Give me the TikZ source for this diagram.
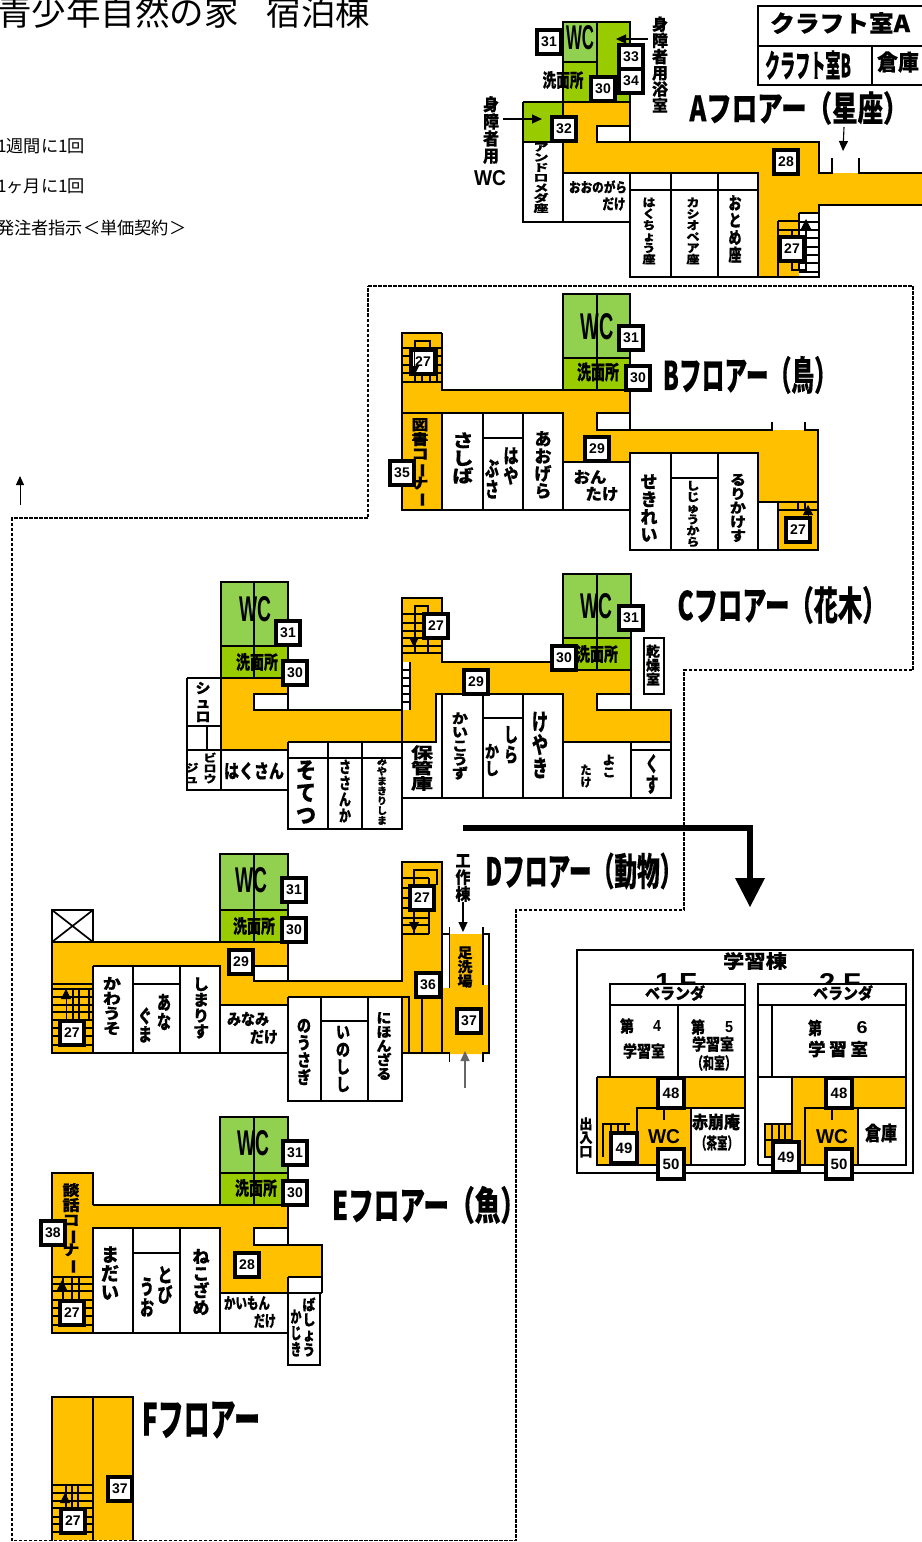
\documentclass[tikz,border=0pt]{standalone}
\usepackage{fontspec}
\usepackage{graphicx}
\setmainfont{Noto Sans CJK JP}[BoldFeatures={FakeBold=0.4}]
\newfontfamily\lib{Liberation Sans}
\usetikzlibrary{arrows.meta}
\definecolor{corr}{HTML}{FFC000}
\definecolor{lgr}{HTML}{92D050}
\definecolor{dgr}{HTML}{99CC00}
\newcount\lc
\newcommand\lbl[5]{\global\advance\lc by 1 \node[txt] (L\the\lc) at (#1,#2) {\resizebox{#3pt}{#4pt}{#5}};}
\newcommand\vstk[1]{\vbox{\let\\\cr \baselineskip=1.0em \lineskiplimit=-100pt \lineskip=0pt \halign{\hfil##\hfil\cr #1\cr}}}
\newcommand\vlbl[5]{\lbl{#1}{#2}{#3}{#4}{\vstk{#5}}}
\newcommand\vb{\rotatebox[origin=c]{-90}{ー}}
\newcommand\wc{{\lib WC}}
\tikzset{
  txt/.style={inner sep=0pt,outer sep=0pt,font=\bfseries},
  wall/.style={draw=black,line width=1.7pt,line join=miter},
  thin stair/.style={draw=black,line width=1.3pt},
  room/.style={draw=black,line width=1.7pt,fill=white},
  corrfill/.style={fill=corr},
  badge/.style={draw=black,fill=white,line width=3.8pt,minimum width=24.4pt,minimum height=23.4pt,inner sep=0pt,font=\lib\bfseries\fontsize{14}{14}\selectfont},
  tall/.style={badge,minimum width=25.4pt,minimum height=30.4pt,font=\lib\bfseries\fontsize{15}{15}\selectfont},
  note/.style={inner sep=0pt,anchor=west,font=\fontsize{17.2}{18}\selectfont},
  darrow/.style={draw=black,line width=1.1pt,-{Triangle[length=10pt,width=9pt]}},
  boundary/.style={draw=black,line width=1.2pt,dash pattern=on 3.5pt off 1.5pt},
}
\begin{document}
\begin{tikzpicture}[x=1pt,y=-1pt]
\useasboundingbox (0,0) rectangle (921,1542);
\fill[white] (0,0) rectangle (921,1542);
% boundary
\draw[boundary] (368,286) -- (913,286) -- (913,670) -- (684,670) -- (684,910) -- (516,910) -- (516,1540.5) -- (12,1540.5) -- (12,518) -- (368,518) -- cycle;
\draw[draw=black,line width=1pt,-{Triangle[length=9pt,width=8pt]}] (20,505) -- (20,476);
% titles
\node[inner sep=0pt,anchor=base west,font=\fontsize{34.5}{35}\selectfont] (title) at (-3,25) {青少年自然の家\hspace{28pt}宿泊棟};
\node[note] (n1) at (-3,146) {1週間に1回};
\node[note] (n2) at (-3,186) {1ヶ月に1回};
\node[note] (n3) at (-3,228) {発注者指示＜単価契約＞};
% craft
\draw[wall] (925,6) -- (758,6) -- (758,85) -- (925,85);
\draw[wall] (758,46) -- (925,46);
\draw[wall] (872,46) -- (872,85);
\lbl{840}{23}{140}{20}{クラフト室A}
\lbl{808}{65}{86}{27}{クラフト室B}
\lbl{898}{62}{42}{19}{倉庫}
% ===== A floor
\fill[dgr] (563,22) rectangle (630,102);
\fill[lgr] (563,22) rectangle (597,62);
\fill[dgr] (523,102) rectangle (563,142);
\fill[corr] (563,102) -- (630,102) -- (630,126) -- (597,126) -- (597,142) -- (819,142) -- (819,173) -- (925,173) -- (925,205) -- (819,205) -- (819,213) -- (799,213) -- (799,277) -- (758,277) -- (758,173) -- (563,173) -- cycle;
\draw[wall] (563,102) -- (563,22) -- (630,22) -- (630,142);
\draw[wall] (563,62) -- (597,62);
\draw[wall] (597,22) -- (597,80);
\draw[wall] (523,102) -- (630,102);
\draw[wall] (523,102) -- (523,222) -- (630,222);
\draw[wall] (563,102) -- (563,222);
\draw[wall] (523,142) -- (563,142);
\draw[wall] (630,126) -- (597,126) -- (597,142) -- (819,142) -- (819,173) -- (832,173) -- (832,158);
\draw[wall] (859,158) -- (859,173) -- (925,173);
\draw[wall] (925,205) -- (819,205) -- (819,277) -- (630,277) -- (630,173);
\draw[wall] (563,173) -- (758,173) -- (758,277);
\draw[wall] (630,190) -- (758,190);
\draw[wall] (671,173) -- (671,277);
\draw[wall] (718,173) -- (718,277);
\draw[thin stair] (799,213) -- (799,270) (778,221) -- (778,277) (778,221) -- (799,221) (778,230) -- (806,230) -- (806,270) -- (792,270) -- (792,230);
\foreach \yy in {213,222,230,238,247,255,263,272} \draw[thin stair] (799,\yy) -- (819,\yy);
\draw[draw=black,line width=1pt,-{Triangle[length=10pt,width=10pt]}] (806,245) -- (806,219);
\lbl{580}{38}{28}{24}{\wc}
\lbl{563}{80}{41}{16}{洗面所}
\vlbl{660}{64.5}{16}{95}{身\\障\\者\\用\\浴\\室}
\vlbl{491}{130}{16}{66}{身\\障\\者\\用}
\lbl{490}{178}{32}{15}{\wc}
\draw[darrow] (648,39) -- (616,39);
\draw[darrow] (503,119) -- (542,119);
\lbl{799}{108}{219}{30}{Aフロアー（星座）}
\draw[darrow] (844,127) -- (843,151);
\vlbl{541}{178}{15}{69}{ア\\ン\\ド\\ロ\\メ\\ダ\\座}
\lbl{598}{187}{58}{12}{おおのがら}
\lbl{614}{204}{23}{12}{だけ}
\vlbl{649}{231}{13}{66}{は\\く\\ち\\ょ\\う\\座}
\vlbl{693}{231}{13}{66}{カ\\シ\\オ\\ペ\\ア\\座}
\vlbl{735}{229}{13}{66}{お\\と\\め\\座}
\node[badge] (a31) at (549,42) {31};
\node[badge] (a33) at (631,57) {33};
\node[badge] (a34) at (631,81) {34};
\node[badge] (a30) at (603,89) {30};
\node[badge] (a32) at (564,129) {32};
\node[badge] (a28) at (786,162) {28};
\node[badge] (a27) at (792,249) {27};
% ===== B floor
\fill[lgr] (563,294) rectangle (630,358);
\fill[dgr] (563,358) rectangle (630,390);
\fill[corr] (402,333) -- (442,333) -- (442,390) -- (630,390) -- (630,413) -- (597,413) -- (597,430) -- (818,430) -- (818,550) -- (778,550) -- (778,502) -- (758,502) -- (758,453) -- (630,453) -- (630,462) -- (563,462) -- (563,413) -- (442,413) -- (442,510) -- (402,510) -- cycle;
\draw[wall] (563,390) -- (563,294) -- (630,294) -- (630,430);
\draw[wall] (563,358) -- (630,358);
\draw[wall] (597,294) -- (597,390);
\draw[wall] (442,333) -- (402,333) -- (402,510) -- (630,510);
\draw[wall] (442,333) -- (442,390) -- (630,390);
\draw[wall] (402,413) -- (563,413) -- (563,510);
\draw[wall] (442,413) -- (442,510);
\draw[wall] (483,413) -- (483,510);
\draw[wall] (523,413) -- (523,510);
\draw[wall] (483,438) -- (523,438);
\draw[wall] (563,462) -- (630,462);
\draw[wall] (630,413) -- (597,413) -- (597,430) -- (772,430) -- (772,422);
\draw[wall] (805,422) -- (805,430) -- (818,430) -- (818,550) -- (630,550) -- (630,453) -- (758,453) -- (758,550);
\draw[wall] (671,453) -- (671,550);
\draw[wall] (718,453) -- (718,550);
\draw[wall] (671,478) -- (718,478);
\draw[wall] (758,502) -- (818,502);
\draw[wall] (778,502) -- (778,550);
\foreach \yy in {348,356,365,373,382} \draw[thin stair] (402,\yy) -- (442,\yy);
\foreach \xx in {415,422,430,437} \draw[thin stair] (\xx,348) -- (\xx,382);
\draw[thin stair] (415,348) -- (415,341) -- (430,341) -- (430,348);
\draw[thin stair] (778,510) -- (818,510) (798,502) -- (798,510) (805,502) -- (805,510);
\lbl{597}{327}{33}{26}{\wc}
\lbl{598}{372}{42}{17}{洗面所}
\lbl{750}{375}{174}{34}{Bフロアー（鳥）}
\vlbl{420}{462.5}{17}{85}{図\\書\\コ\\\vb\\ナ\\\vb}
\vlbl{463}{458}{21}{50}{さ\\し\\ば}
\vlbl{511}{466}{15}{36}{は\\や}
\vlbl{492}{479}{14}{38}{ぶ\\さ}
\vlbl{543}{465}{17}{66}{あ\\お\\げ\\ら}
\lbl{590}{477}{33}{13}{おん}
\lbl{602}{494}{33}{13}{たけ}
\vlbl{649}{508}{17}{67}{せ\\き\\れ\\い}
\vlbl{693}{514}{13}{65}{し\\じ\\ゅ\\う\\か\\ら}
\vlbl{738}{508}{16}{67}{る\\り\\か\\け\\す}
\node[badge] (b31) at (631,338) {31};
\node[badge] (b30) at (638,378) {30};
\node[badge] (b27a) at (423,362) {27};
\node[badge] (b35) at (402,473) {35};
\node[badge] (b29) at (597,449) {29};
\node[badge] (b27b) at (798,530) {27};
\draw[draw=black,line width=1pt,-{Triangle[length=10pt,width=10pt]}] (414,348) -- (414,376);
\draw[draw=black,line width=1pt,-{Triangle[length=10pt,width=10pt]}] (808,533) -- (808,505);
% ===== C floor
\fill[lgr] (221,582) rectangle (288,646);
\fill[dgr] (221,646) rectangle (288,678);
\fill[lgr] (563,574) rectangle (631,638);
\fill[dgr] (563,638) rectangle (631,670);
\fill[corr] (221,678) -- (288,678) -- (288,694) -- (254,694) -- (254,710) -- (402,710) -- (402,598) -- (442,598) -- (442,662) -- (563,662) -- (563,670) -- (631,670) -- (631,694) -- (597,694) -- (597,710) -- (671,710) -- (671,742) -- (563,742) -- (563,694) -- (436,694) -- (436,742) -- (288,742) -- (288,750) -- (221,750) -- cycle;
\fill[white] (402,662) rectangle (410,710);
\draw[wall] (221,678) -- (221,582) -- (288,582) -- (288,710);
\draw[wall] (221,646) -- (288,646);
\draw[wall] (254,582) -- (254,678);
\draw[wall] (187,678) -- (288,678);
\draw[wall] (187,678) -- (187,790) -- (288,790);
\draw[wall] (221,678) -- (221,790);
\draw[wall] (187,726) -- (221,726);
\draw[wall] (207,726) -- (207,750);
\draw[wall] (187,750) -- (288,750);
\draw[wall] (288,694) -- (254,694) -- (254,710) -- (402,710) -- (402,598) -- (442,598) -- (442,662) -- (563,662);
\draw[wall] (563,670) -- (563,574) -- (631,574) -- (631,710);
\draw[wall] (563,638) -- (631,638);
\draw[wall] (597,574) -- (597,670);
\draw[wall] (563,670) -- (631,670);
\draw[wall] (631,694) -- (597,694) -- (597,710) -- (671,710) -- (671,798) -- (402,798);
\draw[wall] (288,742) -- (436,742) -- (436,694) -- (563,694) -- (563,798);
\draw[wall] (288,742) -- (288,829) -- (402,829) -- (402,710);
\draw[wall] (288,758) -- (402,758);
\draw[wall] (328,742) -- (328,829);
\draw[wall] (362,742) -- (362,829);
\draw[wall] (442,694) -- (442,798);
\draw[wall] (483,694) -- (483,798);
\draw[wall] (523,694) -- (523,798);
\draw[wall] (483,718) -- (523,718);
\draw[wall] (563,742) -- (671,742);
\draw[wall] (631,742) -- (631,798);
\draw[wall] (631,750) -- (671,750);
\draw[wall] (644,638) rectangle (664,694);
\foreach \yy in {614,623,631,638,646,653} \draw[thin stair] (402,\yy) -- (442,\yy);
\draw[thin stair] (415,653) -- (415,606) -- (428,606) -- (428,653);
\draw[thin stair] (410,662) -- (410,710);
\foreach \yy in {670,678,686,694,702} \draw[thin stair] (402,\yy) -- (410,\yy);
\draw[draw=black,line width=1pt,-{Triangle[length=10pt,width=10pt]}] (414,615) -- (414,647);
\lbl{255}{609}{32}{25}{\wc}
\lbl{257}{662}{42}{16}{洗面所}
\lbl{596}{606}{32}{25}{\wc}
\lbl{597}{654}{42}{16}{洗面所}
\lbl{782}{605}{209}{34}{Cフロアー（花木）}
\vlbl{203}{702}{15}{40}{シ\\ュ\\ロ}
\vlbl{210}{768}{13}{30}{ビ\\ロ\\ウ}
\vlbl{192}{773}{13}{20}{ジ\\ュ}
\lbl{254}{771}{60}{16}{はくさん}
\vlbl{306}{792}{20}{63}{そ\\て\\つ}
\vlbl{345}{791}{12}{62}{さ\\さ\\ん\\か}
\vlbl{382}{791}{10}{67}{み\\や\\ま\\き\\り\\し\\ま}
\vlbl{422}{768}{22}{44}{保\\管\\庫}
\vlbl{460}{746}{16}{66}{か\\い\\こ\\う\\ず}
\vlbl{511}{745}{14}{36}{し\\ら}
\vlbl{492}{760}{14}{31}{か\\し}
\vlbl{540}{745}{16}{65}{け\\や\\き}
\vlbl{609}{766}{13}{22}{よ\\こ}
\vlbl{586}{776}{11}{22}{た\\け}
\vlbl{652}{774}{13}{38}{く\\す}
\vlbl{653}{665}{14}{40}{乾\\燥\\室}
\node[badge] (c31a) at (288,633) {31};
\node[badge] (c30a) at (295,673) {30};
\node[badge] (c27) at (436,626) {27};
\node[badge] (c29) at (476,682) {29};
\node[badge] (c30b) at (564,658) {30};
\node[badge] (c31b) at (631,618) {31};
% big arrow
\draw[draw=black,line width=6pt] (463,828) -- (750,828) -- (750,880);
\fill[black] (735,878) -- (765,878) -- (750,907) -- cycle;
% ===== D floor
\fill[lgr] (220,854) rectangle (288,910);
\fill[dgr] (220,910) rectangle (288,942);
\draw[wall,fill=white] (52,910) rectangle (93,942);
\draw[wall] (52,910) -- (93,942) (93,910) -- (52,942);
\fill[corr] (52,942) -- (288,942) -- (288,966) -- (254,966) -- (254,981) -- (402,981) -- (402,862) -- (442,862) -- (442,988) -- (450,988) -- (450,934) -- (483,934) -- (483,985) -- (488,985) -- (488,1054) -- (402,1054) -- (402,997) -- (288,997) -- (288,1005) -- (220,1005) -- (220,966) -- (93,966) -- (93,1053) -- (52,1053) -- cycle;
\draw[wall] (220,942) -- (220,854) -- (288,854) -- (288,981);
\draw[wall] (220,910) -- (288,910);
\draw[wall] (254,854) -- (254,942);
\draw[wall] (52,942) -- (288,942);
\draw[wall] (288,966) -- (254,966) -- (254,981) -- (402,981) -- (402,862) -- (442,862) -- (442,1053);
\draw[wall] (52,942) -- (52,1053) -- (288,1053);
\draw[wall] (93,966) -- (93,1053);
\draw[wall] (93,966) -- (220,966) -- (220,1053);
\draw[wall] (133,966) -- (133,1053);
\draw[wall] (180,966) -- (180,1053);
\draw[wall] (133,984) -- (180,984);
\draw[wall] (220,1005) -- (288,1005);
\draw[wall] (288,997) -- (409,997) -- (409,1053);
\draw[wall] (288,997) -- (288,1101) -- (402,1101) -- (402,997);
\draw[wall] (321,997) -- (321,1101);
\draw[wall] (368,997) -- (368,1101);
\draw[wall] (321,1021) -- (368,1021);
\draw[wall] (402,1053) -- (442,1053);
\draw[wall] (422,997) -- (422,1053);
\draw[wall] (442,934) -- (449.5,934) -- (449.5,988);
\draw[wall] (449.5,927) -- (449.5,934);
\draw[wall] (483,927) -- (483,985);
\draw[wall] (483,934) -- (489,934) -- (489,1054);
\draw[wall] (442,1053) -- (449.5,1053) -- (449.5,1062);
\draw[wall] (489,1053) -- (483,1053) -- (483,1062);
\foreach \yy in {878,888,898,908,918,925,934} \draw[thin stair] (402,\yy) -- (429,\yy);
\draw[thin stair] (414,934) -- (414,870) -- (437,870) -- (437,885);
\draw[thin stair] (429,878) -- (429,934);
\foreach \yy in {984,989,997,1005,1012,1020,1028,1036,1045} \draw[thin stair] (52,\yy) -- (92,\yy);
\foreach \xx in {73,79,89} \draw[thin stair] (\xx,989) -- (\xx,1020);
\draw[draw=black,line width=1pt,-{Triangle[length=10pt,width=10pt]}] (66,1020) -- (66,989);
\draw[draw=black,line width=1pt,-{Triangle[length=10pt,width=10pt]}] (414,905) -- (414,932);
\lbl{251}{880}{32}{25}{\wc}
\lbl{254}{926}{42}{16}{洗面所}
\vlbl{465}{967}{15}{40}{足\\洗\\場}
\vlbl{463}{878}{15}{46}{工\\作\\棟}
\draw[darrow] (463,902) -- (463,932);
\draw[draw=black!60,line width=1.1pt,-{Triangle[length=10pt,width=9pt]}] (465,1088) -- (465,1051);
\vlbl{112}{1006}{18}{57}{か\\わ\\う\\そ}
\vlbl{164}{1012}{14}{35}{あ\\な}
\vlbl{145}{1025}{14}{34}{ぐ\\ま}
\vlbl{201}{1008}{16}{60}{し\\ま\\り\\す}
\lbl{248}{1019}{42}{13}{みなみ}
\lbl{264}{1037}{28}{13}{だけ}
\vlbl{304}{1052}{14}{65}{の\\う\\さ\\ぎ}
\vlbl{343}{1059}{14}{65}{い\\の\\し\\し}
\vlbl{384}{1046}{15}{67}{に\\ほ\\ん\\ざ\\る}
\lbl{584}{871}{197}{33}{Dフロアー（動物）}
\node[badge] (d31) at (294,890) {31};
\node[badge] (d30) at (294,930) {30};
\node[badge] (d29) at (241,962) {29};
\node[badge] (d27a) at (422,898) {27};
\node[badge] (d36) at (428,985) {36};
\node[badge] (d37) at (469,1021) {37};
\node[badge] (d27b) at (72,1033) {27};
% ===== study building
\draw[wall] (577,950) rectangle (913,1173);
\lbl{755}{961}{64}{16}{学習棟}
\lbl{676}{982}{42}{18}{\lib 1 F}
\lbl{840}{982}{42}{18}{\lib 2 F}
\fill[white] (600,984) rectangle (750,1005);
\fill[white] (750,984) rectangle (910,1005);
\fill[corr] (597,1077) -- (745,1077) -- (745,1108) -- (691,1108) -- (691,1165) -- (597,1165) -- cycle;
\draw[wall] (610,1077) -- (610,984) -- (745,984) -- (745,1165);
\draw[wall] (610,1005) -- (745,1005);
\draw[wall] (678,1005) -- (678,1077);
\draw[wall] (597,1077) -- (745,1077);
\draw[wall] (597,1077) -- (597,1165) -- (745,1165);
\draw[wall] (745,1108) -- (637,1108) -- (637,1165);
\draw[wall] (691,1108) -- (691,1165);
\draw[wall] (664,1108) -- (664,1120);
\draw[thin stair] (603,1157) -- (603,1124) -- (630,1124);
\foreach \xx in {611,618,625} \draw[thin stair] (\xx,1124) -- (\xx,1140);
\fill[corr] (792,1077) -- (906,1077) -- (906,1108) -- (858,1108) -- (858,1165) -- (792,1165) -- cycle;
\fill[corr] (765,1124) rectangle (792,1157);
\draw[wall] (758,1165) -- (758,984) -- (906,984) -- (906,1165) -- (758,1165);
\draw[wall] (758,1005) -- (906,1005);
\draw[wall] (772,1005) -- (772,1077);
\draw[wall] (758,1077) -- (906,1077);
\draw[wall] (792,1077) -- (792,1165);
\draw[wall] (906,1108) -- (805,1108) -- (805,1165);
\draw[wall] (858,1108) -- (858,1165);
\draw[wall] (832,1108) -- (832,1120);
\draw[thin stair] (792,1157) -- (765,1157) -- (765,1124) -- (792,1124);
\draw[thin stair] (765,1140) -- (792,1140);
\foreach \xx in {772,779,785} \draw[thin stair] (\xx,1124) -- (\xx,1157);
\lbl{675}{993}{60}{14}{ベランダ}
\lbl{843}{993}{60}{14}{ベランダ}
\lbl{627}{1026}{14}{14}{第}
\lbl{657}{1026}{8}{11}{\lib 4}
\lbl{644}{1051}{42}{14}{学習室}
\lbl{698}{1027}{14}{14}{第}
\lbl{729}{1027}{8}{11}{\lib 5}
\lbl{713}{1044}{42}{14}{学習室}
\lbl{714}{1063}{44}{14}{（和室）}
\lbl{815}{1028}{14}{15}{第}
\lbl{862}{1028}{11}{12}{\lib 6}
\lbl{838}{1049}{60}{15}{学\hspace{.2em}習\hspace{.2em}室}
\lbl{664}{1137}{32}{14}{\wc}
\lbl{716}{1122}{48}{15}{赤崩庵}
\lbl{717}{1143}{42}{14}{（茶室）}
\vlbl{586}{1137.5}{13}{39}{出\\入\\口}
\lbl{832}{1137}{32}{14}{\wc}
\lbl{881}{1133}{32}{17}{倉庫}
\node[tall] (s48a) at (671,1093) {48};
\node[tall] (s49a) at (624,1148) {49};
\node[tall] (s50a) at (671,1164) {50};
\node[tall] (s48b) at (839,1093) {48};
\node[tall] (s49b) at (786,1157) {49};
\node[tall] (s50b) at (839,1164) {50};
% ===== E floor
\fill[lgr] (220,1117) rectangle (288,1173);
\fill[dgr] (220,1173) rectangle (288,1205);
\fill[corr] (52,1173) -- (93,1173) -- (93,1205) -- (288,1205) -- (288,1228) -- (254,1228) -- (254,1245) -- (322,1245) -- (322,1277) -- (288,1277) -- (288,1293) -- (220,1293) -- (220,1228) -- (93,1228) -- (93,1333) -- (52,1333) -- cycle;
\draw[wall] (220,1205) -- (220,1117) -- (288,1117) -- (288,1245);
\draw[wall] (220,1173) -- (288,1173);
\draw[wall] (254,1117) -- (254,1205);
\draw[wall] (93,1205) -- (93,1173) -- (52,1173) -- (52,1333) -- (288,1333);
\draw[wall] (93,1205) -- (288,1205);
\draw[wall] (288,1228) -- (254,1228) -- (254,1245) -- (322,1245) -- (322,1293);
\draw[wall] (93,1333) -- (93,1228) -- (220,1228) -- (220,1333);
\draw[wall] (133,1228) -- (133,1333);
\draw[wall] (180,1228) -- (180,1333);
\draw[wall] (133,1253) -- (180,1253);
\draw[wall] (220,1293) -- (322,1293);
\draw[wall] (288,1277) -- (322,1277);
\draw[wall] (288,1277) -- (288,1365) -- (320,1365) -- (320,1293);
\foreach \yy in {1277,1284,1291,1300,1308,1316,1325} \draw[thin stair] (52,\yy) -- (93,\yy);
\foreach \xx in {63,72,79} \draw[thin stair] (\xx,1277) -- (\xx,1300);
\draw[draw=black,line width=1pt,-{Triangle[length=10pt,width=10pt]}] (62,1300) -- (62,1280);
\lbl{253}{1143}{32}{25}{\wc}
\lbl{256}{1188}{42}{16}{洗面所}
\lbl{429}{1205}{194}{34}{Eフロアー（魚）}
\vlbl{71}{1228.5}{17}{87}{談\\話\\コ\\\vb\\ナ\\\vb}
\vlbl{110}{1273}{18}{53}{ま\\だ\\い}
\vlbl{165}{1285}{15}{36}{と\\び}
\vlbl{147}{1297}{14}{38}{う\\お}
\vlbl{201}{1282}{17}{65}{ね\\こ\\ざ\\め}
\lbl{247}{1303}{46}{13}{かいもん}
\lbl{265}{1321}{22}{13}{だけ}
\vlbl{309}{1327}{13}{58}{ば\\し\\ょ\\う}
\vlbl{296}{1333}{11}{46}{か\\じ\\き}
\node[badge] (e31) at (295,1153) {31};
\node[badge] (e30) at (295,1193) {30};
\node[badge] (e38) at (53,1233) {38};
\node[badge] (e28) at (247,1265) {28};
\node[badge] (e27) at (72,1313) {27};
% ===== F floor
\fill[corr] (52,1397) rectangle (133,1540);
\draw[wall] (52,1541) -- (52,1397) -- (133,1397) -- (133,1541);
\draw[wall] (93,1397) -- (93,1541);
\foreach \yy in {1485,1493,1501,1508,1517,1524,1532} \draw[thin stair] (52,\yy) -- (93,\yy);
\foreach \xx in {66,72,78} \draw[thin stair] (\xx,1485) -- (\xx,1508);
\draw[draw=black,line width=1pt,-{Triangle[length=10pt,width=10pt]}] (65,1510) -- (65,1493);
\lbl{201}{1420}{118}{34}{Fフロアー}
\node[badge] (f37) at (120,1489) {37};
\node[badge] (f27) at (73,1521) {27};
\end{tikzpicture}
\end{document}
